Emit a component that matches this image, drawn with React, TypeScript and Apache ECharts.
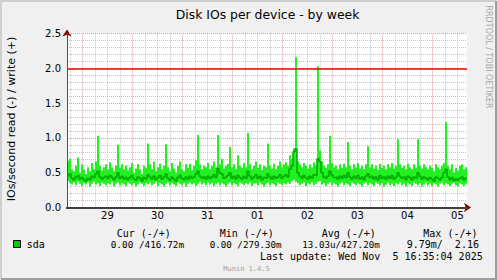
import React, { useEffect, useRef } from "react";
import * as echarts from "echarts";

// ---- data ----
const HOURS_PER_POINT = 0.96; // 200 samples over 8 days
const RANGE_HOURS = 192;
const FIRST_MIDNIGHT = 7.415; // hours after start (Oct 28 16:35) -> Oct 29 00:00
const dayLabels = ["29", "30", "31", "01", "02", "03", "04", "05"];
const WARN = 2.0;

const writeMax = [
  0.67, 0.70, 0.55, 0.52, 0.60, 0.72, 0.50, 0.62, 0.55, 0.48,
  0.58, 0.52, 0.64, 0.55, 0.66, 1.03, 0.60, 0.53, 0.58, 0.62,
  0.55, 0.65, 0.58, 0.52, 0.60, 0.90, 0.57, 0.62, 0.55, 0.60,
  0.53, 0.58, 0.64, 0.50, 0.56, 0.62, 0.55, 0.48, 0.60, 0.57,
  0.92, 0.62, 0.55, 0.66, 0.52, 0.58, 0.63, 0.55, 0.60, 0.91,
  0.58, 0.52, 0.64, 0.56, 0.50, 0.60, 0.66, 0.55, 0.52, 0.62,
  0.57, 0.63, 0.54, 0.60, 0.68, 1.04, 0.62, 0.55, 0.60, 0.58,
  0.64, 0.55, 0.60, 0.66, 0.58, 1.04, 0.62, 0.70, 0.56, 0.60,
  0.63, 0.87, 0.58, 0.62, 0.55, 0.75, 0.60, 0.57, 0.64, 0.58,
  1.07, 0.62, 0.55, 0.60, 0.66, 0.57, 0.62, 0.54, 0.60, 0.58,
  0.92, 0.60, 0.56, 0.63, 0.55, 0.60, 0.66, 0.58, 0.62, 0.65,
  0.60, 0.75, 0.70, 0.85, 2.16, 0.66, 0.62, 0.58, 0.64, 0.60,
  0.56, 0.62, 0.58, 0.65, 0.60, 2.03, 0.82, 0.66, 0.60, 0.57,
  0.62, 1.03, 0.64, 0.58, 0.60, 0.55, 0.62, 0.57, 0.63, 0.58,
  0.94, 0.60, 0.55, 0.62, 0.58, 0.64, 0.56, 0.60, 0.55, 0.62,
  0.88, 0.58, 0.62, 0.56, 0.60, 0.54, 0.63, 0.57, 0.60, 0.55,
  0.62, 0.58, 0.64, 0.56, 0.60, 0.98, 0.62, 0.57, 0.60, 0.55,
  0.63, 0.58, 0.55, 0.62, 0.57, 0.98, 0.60, 0.56, 0.62, 0.58,
  0.55, 0.60, 0.57, 0.52, 0.62, 0.58, 0.55, 0.60, 0.64, 1.23,
  0.60, 0.55, 0.62, 0.50, 0.57, 0.53, 0.60, 0.62, 0.55, 0.58,
];

const writeMin = [
  0.38, 0.35, 0.33, 0.36, 0.32, 0.37, 0.34, 0.31, 0.35, 0.33,
  0.36, 0.30, 0.34, 0.37, 0.33, 0.35, 0.31, 0.36, 0.34, 0.32,
  0.35, 0.33, 0.37, 0.30, 0.34, 0.36, 0.32, 0.35, 0.33, 0.31,
  0.36, 0.34, 0.32, 0.35, 0.30, 0.33, 0.36, 0.34, 0.31, 0.35,
  0.33, 0.36, 0.32, 0.34, 0.37, 0.31, 0.35, 0.33, 0.30, 0.34,
  0.36, 0.32, 0.35, 0.33, 0.31, 0.36, 0.34, 0.32, 0.35, 0.30,
  0.34, 0.36, 0.33, 0.35, 0.31, 0.34, 0.37, 0.33, 0.35, 0.32,
  0.36, 0.33, 0.35, 0.31, 0.34, 0.36, 0.32, 0.35, 0.33, 0.30,
  0.34, 0.36, 0.32, 0.35, 0.33, 0.31, 0.36, 0.34, 0.32, 0.35,
  0.33, 0.36, 0.31, 0.34, 0.35, 0.32, 0.36, 0.33, 0.30, 0.34,
  0.36, 0.32, 0.35, 0.33, 0.31, 0.36, 0.34, 0.32, 0.35, 0.33,
  0.36, 0.34, 0.38, 0.40, 0.37, 0.35, 0.32, 0.34, 0.36, 0.31,
  0.35, 0.33, 0.36, 0.32, 0.34, 0.37, 0.38, 0.33, 0.35, 0.31,
  0.34, 0.36, 0.32, 0.35, 0.33, 0.30, 0.34, 0.36, 0.32, 0.35,
  0.33, 0.31, 0.36, 0.34, 0.32, 0.35, 0.33, 0.30, 0.34, 0.36,
  0.32, 0.35, 0.33, 0.31, 0.36, 0.34, 0.32, 0.35, 0.30, 0.33,
  0.36, 0.32, 0.34, 0.31, 0.35, 0.33, 0.36, 0.32, 0.34, 0.30,
  0.35, 0.33, 0.31, 0.36, 0.34, 0.32, 0.35, 0.30, 0.33, 0.36,
  0.32, 0.34, 0.31, 0.35, 0.33, 0.30, 0.34, 0.36, 0.32, 0.35,
  0.33, 0.31, 0.34, 0.36, 0.32, 0.30, 0.35, 0.33, 0.31, 0.34,
];

const writeAvg = [
  0.45, 0.48, 0.42, 0.40, 0.44, 0.46, 0.41, 0.43, 0.40, 0.38,
  0.42, 0.40, 0.45, 0.43, 0.48, 0.52, 0.44, 0.41, 0.43, 0.45,
  0.42, 0.46, 0.43, 0.40, 0.44, 0.50, 0.42, 0.45, 0.41, 0.43,
  0.40, 0.43, 0.46, 0.41, 0.39, 0.44, 0.42, 0.38, 0.43, 0.41,
  0.47, 0.44, 0.41, 0.45, 0.40, 0.43, 0.46, 0.41, 0.44, 0.48,
  0.42, 0.39, 0.44, 0.41, 0.38, 0.43, 0.46, 0.42, 0.40, 0.44,
  0.41, 0.45, 0.42, 0.44, 0.48, 0.52, 0.45, 0.42, 0.44, 0.41,
  0.45, 0.42, 0.44, 0.47, 0.43, 0.56, 0.50, 0.48, 0.42, 0.44,
  0.46, 0.50, 0.42, 0.45, 0.41, 0.46, 0.43, 0.41, 0.45, 0.42,
  0.52, 0.45, 0.41, 0.44, 0.47, 0.42, 0.45, 0.40, 0.43, 0.42,
  0.48, 0.44, 0.41, 0.45, 0.42, 0.44, 0.47, 0.42, 0.45, 0.47,
  0.44, 0.55, 0.60, 0.80, 0.84, 0.50, 0.45, 0.42, 0.46, 0.43,
  0.41, 0.45, 0.42, 0.47, 0.46, 0.70, 0.66, 0.50, 0.44, 0.42,
  0.45, 0.52, 0.47, 0.43, 0.44, 0.41, 0.45, 0.42, 0.46, 0.43,
  0.50, 0.44, 0.41, 0.45, 0.42, 0.46, 0.41, 0.44, 0.40, 0.45,
  0.48, 0.43, 0.45, 0.41, 0.44, 0.40, 0.46, 0.42, 0.44, 0.41,
  0.45, 0.42, 0.46, 0.41, 0.44, 0.50, 0.45, 0.42, 0.44, 0.40,
  0.45, 0.43, 0.40, 0.44, 0.42, 0.50, 0.45, 0.41, 0.44, 0.42,
  0.40, 0.43, 0.41, 0.38, 0.44, 0.42, 0.40, 0.43, 0.50, 0.55,
  0.44, 0.40, 0.43, 0.38, 0.41, 0.39, 0.42, 0.44, 0.40, 0.42,
];

const headers = ["Cur (-/+)", "Min (-/+)", "Avg (-/+)", "Max (-/+)"];
const legendName = "sda";
const curText = "0.00 /416.72m";
const minText = "0.00 /279.30m";
const avgText = "13.03u/427.20m";
const maxText = "9.79m/  2.16";
const lastUpdate = "Last update: Wed Nov  5 16:35:04 2025";

const stepPoints = (arr: number[]) => {
  const pts: number[][] = arr.map((v, i) => [i * HOURS_PER_POINT, v]);
  pts.push([RANGE_HOURS, arr[arr.length - 1]]);
  return pts;
};

const BRIGHT = "#22f022";
const DARK = "#00a800";
const MONO = "DejaVu Sans Mono";
const SANS = "DejaVu Sans";

export default function App() {
  const ref = useRef<HTMLDivElement>(null);
  useEffect(() => {
    if (!ref.current) return;
    const chart = echarts.init(ref.current, undefined, { renderer: "svg" });

    const bandData = writeMax.map((v, i) => [
      i * HOURS_PER_POINT,
      (i + 1) * HOURS_PER_POINT,
      writeMin[i],
      v,
    ]);

    const vLines: any[] = [];
    for (let k = 0; ; k++) {
      const x = FIRST_MIDNIGHT - 6 + 6 * k;
      if (x >= RANGE_HOURS) break;
      const major = (k - 1) % 4 === 0;
      vLines.push({
        xAxis: x,
        lineStyle: major
          ? { color: "#ea9a9a", width: 1, type: [1, 1] }
          : { color: "#c4c4c4", width: 1, type: [1, 1] },
      });
    }
    const noons = dayLabels.map((_, i) => FIRST_MIDNIGHT + 12 + 24 * i);

    const txt = (text: string, x: number, y: number, extra: any = {}) => ({
      type: "text",
      x,
      y,
      silent: true,
      style: {
        text,
        fill: "#000",
        font: `10px "${MONO}"`,
        verticalAlign: "middle",
        align: "left",
        ...extra,
      },
    });

    chart.setOption({
      animation: false,
      backgroundColor: "#f0f0f0",
      grid: {
        left: 67,
        right: 30,
        top: 33.5,
        bottom: 72.5,
        show: true,
        backgroundColor: "#ffffff",
        borderWidth: 0,
      },
      xAxis: [
        {
          type: "value",
          position: "bottom",
          min: 0,
          max: RANGE_HOURS,
          z: 3,
          axisLine: { show: true, onZero: false, lineStyle: { color: "#404040", width: 2 } },
          axisTick: { show: false },
          splitLine: { show: false },
          axisLabel: {
            customValues: noons,
            margin: 3,
            fontSize: 10,
            fontFamily: SANS,
            color: "#000",
            formatter: (v: number) =>
              dayLabels[Math.round((v - FIRST_MIDNIGHT - 12) / 24)] ?? "",
          },
        },
        {
          type: "value",
          position: "bottom",
          min: 0,
          max: RANGE_HOURS,
          z: 1,
          axisLine: {
            show: true,
            onZero: false,
            symbol: ["none", "arrow"],
            symbolSize: [7, 7],
            symbolOffset: [0, 4],
            lineStyle: { color: "#800000", width: 2 },
          },
          axisTick: { show: false },
          axisLabel: { show: false },
          splitLine: { show: false },
        },
      ],
      yAxis: [
        {
          type: "value",
          position: "left",
          min: 0,
          max: 2.5,
          interval: 0.5,
          z: 3,
          axisLine: { show: true, onZero: false, lineStyle: { color: "#505050", width: 1 } },
          axisTick: { show: false },
          axisLabel: {
            margin: 6,
            fontSize: 10,
            fontFamily: SANS,
            color: "#000",
            formatter: (v: number) => v.toFixed(1),
          },
          splitLine: { show: true, lineStyle: { color: "#ea9a9a", width: 1, type: [1, 1] } },
          minorTick: { show: false, splitNumber: 5 },
          minorSplitLine: { show: true, lineStyle: { color: "#c4c4c4", width: 1, type: [1, 1] } },
        },
        {
          type: "value",
          position: "left",
          min: 0,
          max: 2.5,
          z: 1,
          axisLine: {
            show: true,
            onZero: false,
            symbol: ["none", "arrow"],
            symbolSize: [7, 7],
            symbolOffset: [0, 4],
            lineStyle: { color: "#800000", width: 1 },
          },
          axisTick: { show: false },
          axisLabel: { show: false },
          splitLine: { show: false },
        },
      ],
      series: [
        {
          type: "custom",
          name: "band",
          xAxisIndex: 0,
          yAxisIndex: 0,
          silent: true,
          z: 3,
          encode: { x: [0, 1], y: [2, 3] },
          data: bandData,
          renderItem: (_params: any, api: any) => {
            const p0 = api.coord([api.value(0), api.value(3)]);
            const p1 = api.coord([api.value(1), api.value(2)]);
            return {
              type: "rect",
              shape: { x: p0[0], y: p0[1], width: p1[0] - p0[0], height: p1[1] - p0[1] },
              style: { fill: BRIGHT, stroke: "none" },
            };
          },
          markLine: {
            silent: true,
            z: 1,
            symbol: ["none", "none"],
            label: { show: false },
            animation: false,
            data: vLines,
          },
        },
        {
          type: "line",
          name: legendName,
          xAxisIndex: 0,
          yAxisIndex: 0,
          step: "end",
          symbol: "none",
          silent: true,
          z: 4,
          lineStyle: { color: DARK, width: 1.5 },
          data: stepPoints(writeAvg),
          markLine: {
            silent: true,
            z: 10,
            symbol: ["none", "none"],
            label: { show: false },
            animation: false,
            lineStyle: { color: "#ff0000", width: 1.5, type: "solid" },
            data: [{ yAxis: WARN }],
          },
        },
      ],
      graphic: [
        {
          type: "polyline",
          silent: true,
          shape: { points: [[1, 279], [1, 1], [496, 1]] },
          style: { stroke: "#cfcfcf", lineWidth: 2, fill: "none" },
        },
        {
          type: "polyline",
          silent: true,
          shape: { points: [[1, 279], [496, 279], [496, 1]] },
          style: { stroke: "#9e9e9e", lineWidth: 2, fill: "none" },
        },
        txt("Disk IOs per device - by week", 267.5, 14, {
          font: `12.4px "${SANS}"`,
          align: "center",
        }),
        {
          type: "text",
          x: 11,
          y: 119,
          rotation: Math.PI / 2,
          silent: true,
          style: {
            text: "IOs/second read (-) / write (+)",
            fill: "#000",
            font: `11px "${SANS}"`,
            align: "center",
            verticalAlign: "middle",
          },
        },
        {
          type: "text",
          x: 488,
          y: 57,
          rotation: -Math.PI / 2,
          silent: true,
          style: {
            text: "RRDTOOL / TOBI OETIKER",
            fill: "#a6a6a6",
            font: `8px "${SANS}"`,
            align: "center",
            verticalAlign: "middle",
          },
        },
        txt(headers[0], 116.7, 233),
        txt(headers[1], 219.7, 233),
        txt(headers[2], 321.7, 233),
        txt(headers[3], 423.3, 233),
        {
          type: "rect",
          silent: true,
          shape: { x: 13.5, y: 240.5, width: 7, height: 7 },
          style: { fill: "#00cc00", stroke: "#000", lineWidth: 1 },
        },
        txt(legendName, 26.7, 244.5),
        txt(curText, 110.7, 244.5, { font: `9.4px "${MONO}"` }),
        txt(minText, 209.7, 244.5, { font: `9.2px "${MONO}"` }),
        txt(avgText, 302.3, 244.5, { font: `9.2px "${MONO}"` }),
        txt(maxText, 406.7, 244.5),
        txt(lastUpdate, 482.7, 256, { align: "right" }),
        txt("Munin 1.4.5", 246.5, 269, {
          align: "center",
          fill: "#a0a0a0",
          font: `7px "${MONO}"`,
        }),
      ],
    });
    return () => chart.dispose();
  }, []);
  return (
    <div
      ref={ref}
      style={{ position: "absolute", left: 0, top: 0, width: 497, height: 280 }}
    />
  );
}
